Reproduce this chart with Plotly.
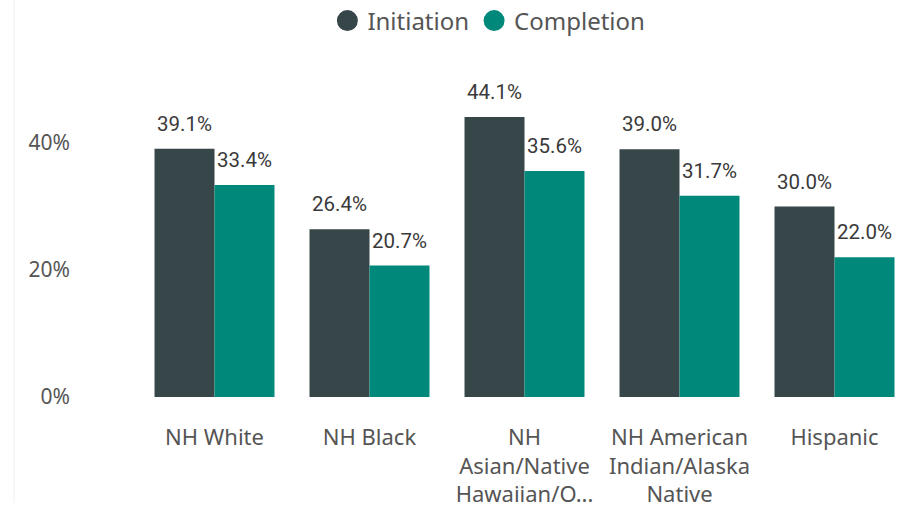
import plotly.graph_objects as go

categories = ["NH White", "NH Black", "NH<br>Asian/Native<br>Hawaiian/O...",
              "NH American<br>Indian/Alaska<br>Native", "Hispanic"]
initiation = [39.1, 26.4, 44.1, 39.0, 30.0]
completion = [33.4, 20.7, 35.6, 31.7, 22.0]
series_names = ["Initiation", "Completion"]
colors = ["#374649", "#00897B"]
y_ticks = [0, 20, 40]

W, H = 902, 505
L, R, T, B = 137, 0, 60, 108
BARGAP = 0.226

fig = go.Figure()
for name, vals, col, grp in zip(series_names, [initiation, completion], colors, ["a", "b"]):
    fig.add_trace(go.Bar(
        x=categories, y=vals, name=name, marker=dict(color=col, line=dict(width=0)),
        offsetgroup=grp, showlegend=False, hoverinfo="skip"))
    fig.add_trace(go.Scatter(
        x=categories, y=vals, mode="markers+text", offsetgroup=grp,
        text=[f"{v:.1f}%" for v in vals], textposition="top center",
        textfont=dict(family="Roboto, DejaVu Sans Condensed, sans-serif", size=20.5, color="#3a3a3a"),
        marker=dict(size=19, color="rgba(0,0,0,0)"), showlegend=False, hoverinfo="skip"))
    fig.add_trace(go.Scatter(
        x=[categories[0]], y=[None], mode="markers", name=name, offsetgroup=grp,
        marker=dict(size=16, color=col, line=dict(color=col, width=5)), showlegend=True))

plot_w = W - L - R
span = plot_w / 155.0
fig.update_layout(
    width=W, height=H,
    margin=dict(l=L, r=R, t=T, b=B, pad=0, autoexpand=False),
    paper_bgcolor="white", plot_bgcolor="white",
    barmode="group", bargap=BARGAP, bargroupgap=0,
    scattermode="group", scattergap=BARGAP,
    font=dict(family="Noto Sans, Open Sans, sans-serif", color="#666666"),
    showlegend=True,
    legend=dict(orientation="h", xref="container", yref="container",
                x=0.542, xanchor="center", y=1 - 21 / H, yanchor="middle",
                font=dict(size=24, color="#555555"), itemsizing="trace",
                bgcolor="rgba(0,0,0,0)"),
    xaxis=dict(type="category", range=[-0.5, -0.5 + span], showgrid=False, zeroline=False,
               showline=False, ticks="", tickfont=dict(size=22, color="#555555"),
               ticklabelstandoff=25, automargin=False, fixedrange=True),
    yaxis=dict(range=[0, (H - B - T) / 6.35], tickvals=y_ticks,
               ticktext=[f"{v}%" for v in y_ticks], showgrid=False, zeroline=False,
               showline=False, ticks="", tickfont=dict(size=21, color="#555555"),
               ticklabelstandoff=66, automargin=False, fixedrange=True),
    shapes=[dict(type="line", xref="paper", yref="paper",
                 x0=(14 - L) / plot_w, x1=(14 - L) / plot_w,
                 y0=-(B - 2) / (H - T - B), y1=1 + T / (H - T - B),
                 line=dict(color="#eeeeee", width=1))],
)

fig.write_html("out.html", config={"displayModeBar": False},
               post_script="document.body.style.margin='0';document.body.style.overflow='hidden';")
